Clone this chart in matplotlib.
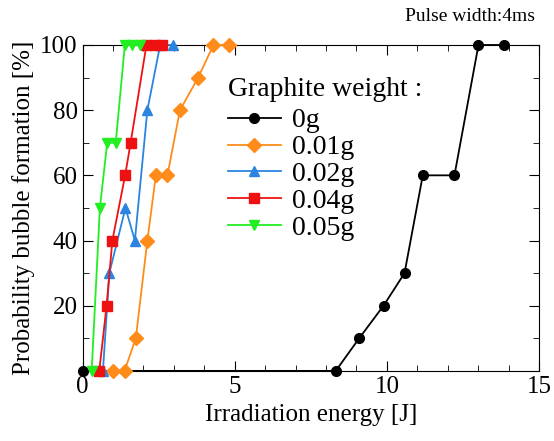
import matplotlib
matplotlib.use('Agg')
import matplotlib.pyplot as plt
from matplotlib.ticker import MultipleLocator

plt.rcParams['font.family'] = 'Liberation Serif'

# irradiation energy [J] / probability [%]
x_0g = [0.0, 8.32, 9.09, 9.89, 10.58, 11.18, 12.22, 13.01, 13.84]
y_0g = [0, 0, 10, 20, 30, 60, 60, 100, 100]
x_001g = [1.0, 1.38, 1.75, 2.13, 2.41, 2.79, 3.2, 3.8, 4.3, 4.81]
y_001g = [0, 0, 10, 40, 60, 60, 80, 90, 100, 100]
x_002g = [0.67, 0.88, 1.41, 1.72, 2.13, 2.55, 2.98]
y_002g = [0, 30, 50, 40, 80, 100, 100]
x_004g = [0.55, 0.79, 0.98, 1.40, 1.58, 2.1, 2.38, 2.62]
y_004g = [0, 20, 40, 60, 70, 100, 100, 100]
x_005g = [0.3, 0.57, 0.81, 1.09, 1.39, 1.61, 1.88]
y_005g = [0, 50, 70, 70, 100, 100, 100]

fig = plt.figure(figsize=(5.54, 4.41), dpi=100)
ax = fig.add_axes([0.149, 0.159, 0.824, 0.739])

kw = dict(lw=1.3, ms=7, clip_on=False, zorder=3)
ax.plot(x_0g, y_0g, color='black', marker='o', label='0g', **kw)
ax.plot(x_001g, y_001g, color='#ff8c1a', marker='D', label='0.01g', **kw)
ax.plot(x_002g, y_002g, color='#2a84e0', marker='^', label='0.02g', **kw)
ax.plot(x_004g, y_004g, color='#ee1111', marker='s', label='0.04g', **kw)
ax.plot(x_005g, y_005g, color='#22ee22', marker='v', label='0.05g', **kw)

ax.set_xlim(0, 15)
ax.set_ylim(0, 100)
ax.xaxis.set_major_locator(MultipleLocator(5))
ax.xaxis.set_minor_locator(MultipleLocator(1))
ax.yaxis.set_major_locator(MultipleLocator(20))
ax.yaxis.set_minor_locator(MultipleLocator(10))
ax.set_yticks([20, 40, 60, 80, 100])
ax.tick_params(which='both', direction='in', top=True, right=True, labelsize=18)
ax.tick_params(which='major', length=7)
ax.tick_params(which='minor', length=4)
ax.tick_params(axis='x', pad=4)

ax.set_xlabel('Irradiation energy [J]', fontsize=18)
ax.set_ylabel('Probability bubble formation [%]', fontsize=18)

leg = ax.legend(title='Graphite weight :', loc='upper left', bbox_to_anchor=(0.288, 0.943),
                frameon=False, fontsize=20, title_fontsize=20, handlelength=1.9,
                labelspacing=0.05, borderpad=0.0, handletextpad=0.4)
leg._legend_box.align = 'left'
leg._legend_box.sep = 4  # a bit more room under the title

fig.text(0.965, 0.982, 'Pulse width:4ms', ha='right', va='top', fontsize=14)

fig.savefig('out.png', dpi=100)
